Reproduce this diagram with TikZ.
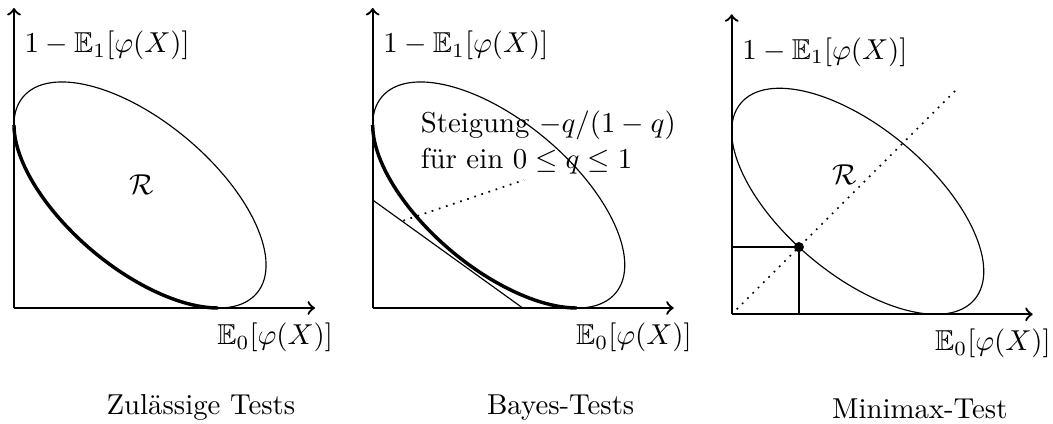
\documentclass[tikz,border=0pt]{standalone}
\usepackage{amssymb}
\begin{document}
\begin{tikzpicture}[x=0.3472pt, y=0.3472pt,
  axis/.style={thick, ->},
  region/.style={thin},
  front/.style={very thick},
  lbl/.style={inner sep=0pt},
  guide/.style={semithick, dotted},
  captext/.style={inner sep=0pt, anchor=base west}]
\useasboundingbox (0,0) rectangle (1053,424);

% ---------- panel 1: admissible tests
\begin{scope}
  \coordinate (o1) at (14,116);
  \coordinate (ya1) at (14,416);
  \coordinate (xa1) at (315,116);
  \draw[axis] (o1) -- (ya1);
  \draw[axis] (o1) -- (xa1);
  \begin{scope}[shift={(140,229)}, rotate=-40]
    \draw[region] (0,0) ellipse [x radius=152.6, y radius=73.3];
    \draw[front] (201.96:152.6 and 73.3) arc[start angle=201.96, end angle=330.21, x radius=152.6, y radius=73.3];
  \end{scope}
  \node[lbl, anchor=west] (yl1) at (24,378.2) {$1-\mathbb{E}_1[\varphi(X)]$};
  \node[lbl, anchor=east] (xl1) at (333.5,86.5) {$\mathbb{E}_0[\varphi(X)]$};
  \node (r1) at (141.7,239) {$\mathcal{R}$};
\end{scope}

% ---------- panel 2: Bayes tests
\begin{scope}[shift={(358.7,0)}]
  \coordinate (o2) at (14,116);
  \coordinate (ya2) at (14,416);
  \coordinate (xa2) at (315,116);
  \draw[axis] (o2) -- (ya2);
  \draw[axis] (o2) -- (xa2);
  \begin{scope}[shift={(140,229)}, rotate=-40]
    \draw[region] (0,0) ellipse [x radius=152.6, y radius=73.3];
    \draw[front] (201.96:152.6 and 73.3) arc[start angle=201.96, end angle=330.21, x radius=152.6, y radius=73.3];
  \end{scope}
  \coordinate (t2a) at (14,224);
  \coordinate (t2b) at (164,116);
  \draw[region] (t2a) -- (t2b);
  \node[lbl, anchor=west] (yl2) at (24,378.2) {$1-\mathbb{E}_1[\varphi(X)]$};
  \node[lbl, anchor=east] (xl2) at (333.5,86.5) {$\mathbb{E}_0[\varphi(X)]$};
  \node[lbl, anchor=north west, align=left] (s2) at (61.5,313.9) {Steigung $-q/(1-q)$\\[0.7pt]f\"ur ein $0\le q\le 1$};
  \coordinate (d2a) at (44.6,203.3);
  \coordinate (d2b) at (165.3,244);
  \draw[guide] (d2a) -- (d2b);
\end{scope}

% ---------- panel 3: minimax test
\begin{scope}[shift={(717.7,-6.3)}]
  \coordinate (o3) at (14,116);
  \coordinate (ya3) at (14,416);
  \coordinate (xa3) at (315,116);
  \draw[axis] (o3) -- (ya3);
  \draw[axis] (o3) -- (xa3);
  \begin{scope}[shift={(140,229)}, rotate=-40]
    \draw[region] (0,0) ellipse [x radius=152.6, y radius=73.3];
  \end{scope}
  \coordinate (g3a) at (19,121);
  \coordinate (g3b) at (241,343);
  \draw[guide] (g3a) -- (g3b);
  \coordinate (h3) at (14,183.2);
  \coordinate (v3) at (81.2,116);
  \node[circle, fill, inner sep=0pt, minimum size=3.5pt] (m3) at (81.2,183.2) {};
  \draw[thick] (h3) -- (m3.center) -- (v3);
  \node[lbl, anchor=west] (yl3) at (24,378.2) {$1-\mathbb{E}_1[\varphi(X)]$};
  \node[lbl, anchor=east] (xl3) at (333.5,86.5) {$\mathbb{E}_0[\varphi(X)]$};
  \node (r3) at (127.3,255.3) {$\mathcal{R}$};
\end{scope}

% ---------- captions
\node[captext] (c1) at (106,9) {Zul\"assige Tests};
\node[captext] (c2) at (486.5,9) {Bayes-Tests};
\node[captext] (c3) at (831.5,5.5) {Minimax-Test};
\end{tikzpicture}
\end{document}
